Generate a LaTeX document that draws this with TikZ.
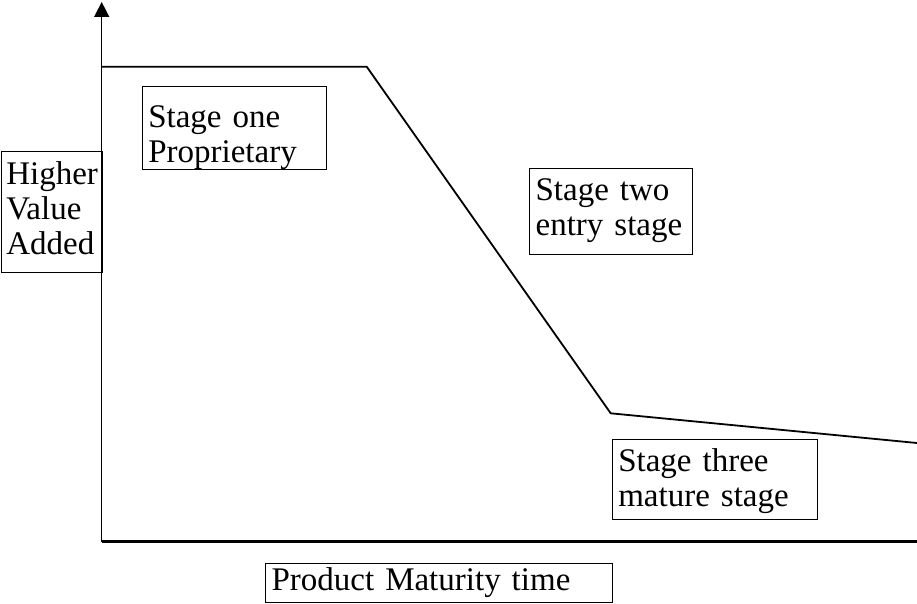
\documentclass[tikz,border=0pt]{standalone}
\usepackage{fontspec}
\setmainfont{Liberation Serif}
\usetikzlibrary{arrows.meta}
\begin{document}
\begin{tikzpicture}[x=1pt, y=-1pt,
    every node/.style={font=\fontsize{33}{35}\selectfont},
    stagebox/.style={draw, line width=1.2pt, anchor=north west, align=left, inner xsep=6pt, inner ysep=0pt}]
    \useasboundingbox (0,0) rectangle (917,604);
    % axes
    \coordinate (origin) at (101.7,541.5);
    \coordinate (ytop) at (101.7,2);
    \coordinate (xend) at (917,541.5);
    \draw[line width=1.5pt, -{Triangle[length=15pt,width=15pt]}] (origin) -- (ytop);
    \draw[line width=2.5pt] (origin) -- (xend);
    % value added over time
    \coordinate (p0) at (101.7,66.7);
    \coordinate (p1) at (366.7,66.7);
    \coordinate (p2) at (610.7,413.3);
    \coordinate (p3) at (917,443);
    \draw[line width=1.8pt, line join=miter] (p0) -- (p1) -- (p2) -- (p3);
    % labels
    \node[stagebox, inner xsep=5pt, text width=91pt, text height=33pt, text depth=88pt] (hva) at (0.7,151) {Higher\\Value\\Added};
    \node[stagebox, text width=172pt, text height=41pt, text depth=42pt] (one) at (141.7,86) {Stage one\\Proprietary};
    \node[stagebox, text width=151pt, text height=32pt, text depth=54pt] (two) at (529,168) {Stage two\\entry stage};
    \node[stagebox, text width=193pt, text height=32pt, text depth=48pt] (three) at (611.7,439) {Stage three\\mature stage};
    \node[stagebox, text width=335pt, text height=27pt, text depth=12pt] (pmt) at (265,562.7) {Product Maturity time};
\end{tikzpicture}
\end{document}
